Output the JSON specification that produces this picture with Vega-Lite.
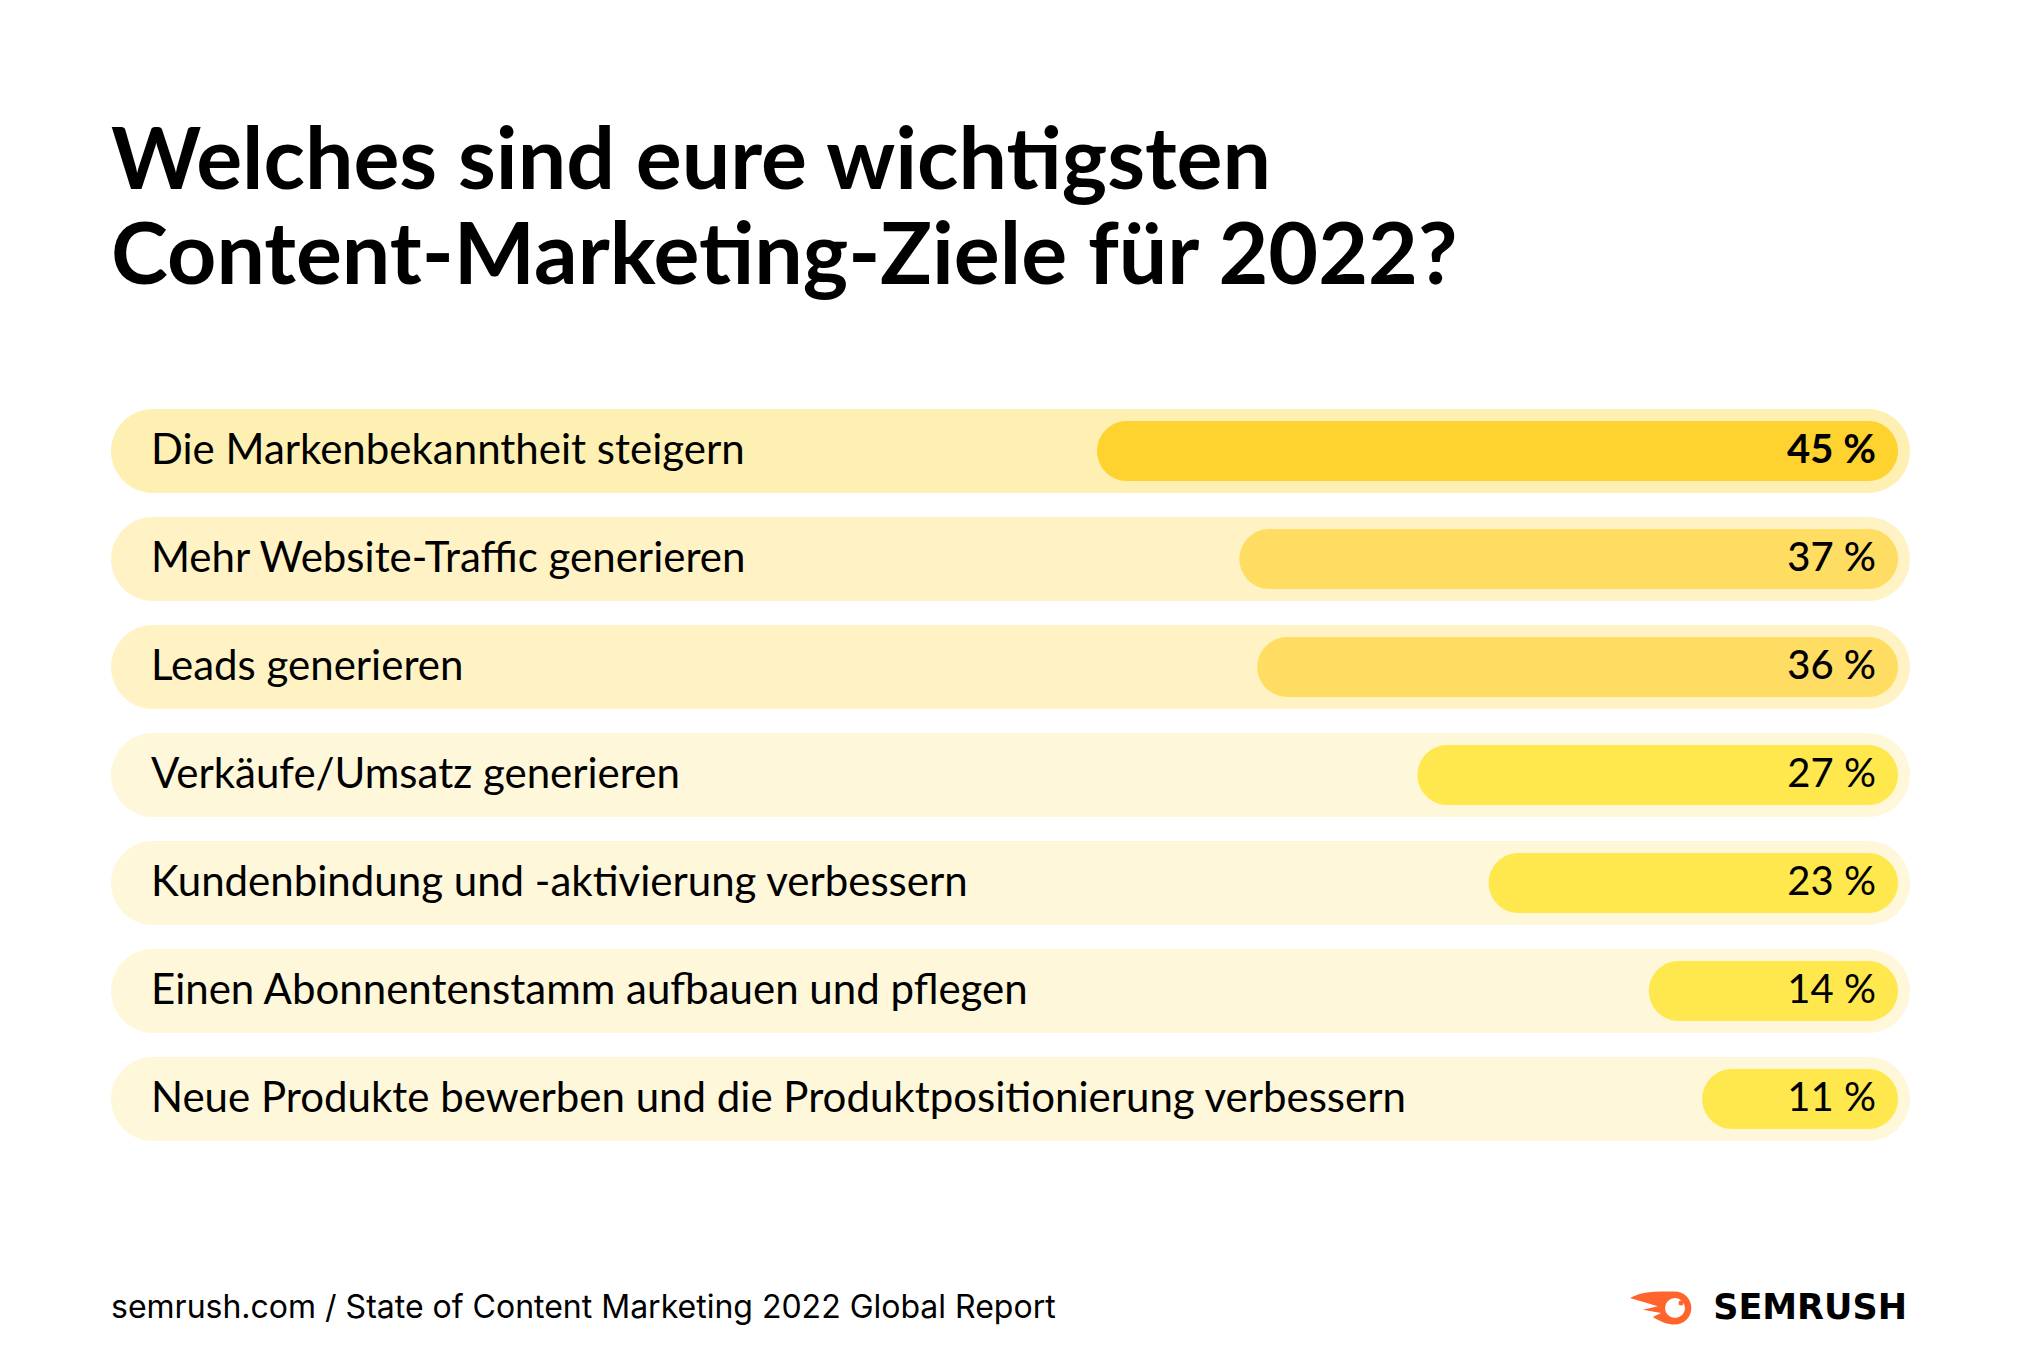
{
  "$schema": "https://vega.github.io/schema/vega-lite/v6.json",
  "background": "white",
  "padding": {"left": 111, "top": 120, "right": 110, "bottom": 30},
  "title": {
    "text": ["Welches sind eure wichtigsten", "Content-Marketing-Ziele für 2022?"],
    "anchor": "start",
    "frame": "group",
    "font": "Lato",
    "fontSize": 86,
    "fontWeight": 700,
    "lineHeight": 95,
    "color": "#000000",
    "offset": 95
  },
  "config": {"view": {"stroke": null}, "font": "Lato"},
  "spacing": 135,
  "vconcat": [
    {
      "width": 1799,
      "height": 756,
      "data": {
        "values": [
          {"goal": "Die Markenbekanntheit steigern", "share": 45},
          {"goal": "Mehr Website-Traffic generieren", "share": 37},
          {"goal": "Leads generieren", "share": 36},
          {"goal": "Verkäufe/Umsatz generieren", "share": 27},
          {"goal": "Kundenbindung und -aktivierung verbessern", "share": 23},
          {"goal": "Einen Abonnentenstamm aufbauen und pflegen", "share": 14},
          {"goal": "Neue Produkte bewerben und die Produktpositionierung verbessern", "share": 11}
        ]
      },
      "encoding": {
        "y": {
          "field": "goal",
          "type": "nominal",
          "sort": null,
          "axis": null,
          "scale": {"paddingInner": 0.2222, "paddingOuter": 0.1111}
        }
      },
      "layer": [
        {
          "mark": {"type": "bar", "cornerRadius": 42},
          "encoding": {
            "x": {"datum": 0, "type": "quantitative", "scale": {"domain": [0, 101.07], "reverse": true, "nice": false, "zero": true}, "axis": null},
            "x2": {"datum": 101.07},
            "color": {
              "field": "share",
              "type": "quantitative",
              "scale": {"type": "threshold", "domain": [30, 40], "range": ["#FFF7DA", "#FFF3C6", "#FEF0B3"]},
              "legend": null
            }
          }
        },
        {
          "mark": {"type": "bar", "cornerRadius": 30, "height": 60, "xOffset": -12, "x2Offset": -12},
          "encoding": {
            "x": {"field": "share", "type": "quantitative"},
            "x2": {"datum": 0},
            "fill": {
              "field": "share",
              "type": "quantitative",
              "scale": {"type": "threshold", "domain": [30, 40], "range": ["#FFE84D", "#FFDD62", "#FED22F"]},
              "legend": null
            }
          }
        },
        {
          "mark": {"type": "text", "align": "left", "baseline": "middle", "dx": 40, "font": "Lato", "fontSize": 42, "color": "#000000"},
          "encoding": {
            "x": {"datum": 101.07},
            "text": {"field": "goal"}
          }
        },
        {
          "transform": [{"filter": "datum.share >= 40"}],
          "mark": {"type": "text", "align": "right", "baseline": "middle", "dx": -34, "font": "Lato", "fontSize": 40, "fontWeight": 700, "color": "#000000", "text": {"expr": "datum.share + ' %'"}},
          "encoding": {"x": {"datum": 0}}
        },
        {
          "transform": [{"filter": "datum.share >= 30 && datum.share < 40"}],
          "mark": {"type": "text", "align": "right", "baseline": "middle", "dx": -34, "font": "Lato", "fontSize": 40, "fontWeight": 500, "color": "#000000", "text": {"expr": "datum.share + ' %'"}},
          "encoding": {"x": {"datum": 0}}
        },
        {
          "transform": [{"filter": "datum.share < 30"}],
          "mark": {"type": "text", "align": "right", "baseline": "middle", "dx": -34, "font": "Lato", "fontSize": 40, "fontWeight": 400, "color": "#000000", "text": {"expr": "datum.share + ' %'"}},
          "encoding": {"x": {"datum": 0}}
        }
      ],
      "resolve": {"scale": {"color": "independent", "fill": "independent"}}
    },
    {
      "width": 1799,
      "height": 40,
      "data": {"values": [{"source": "semrush.com / State of Content Marketing 2022 Global Report", "brand": "SEMRUSH"}]},
      "layer": [
        {
          "mark": {"type": "text", "align": "left", "baseline": "middle", "font": "Inter", "fontSize": 32, "color": "#000000"},
          "encoding": {
            "x": {"datum": 0, "type": "quantitative", "scale": {"domain": [0, 1], "nice": false}, "axis": null},
            "y": {"datum": 0.5, "type": "quantitative", "scale": {"domain": [0, 1], "nice": false}, "axis": null},
            "text": {"field": "source"}
          }
        },
        {
          "mark": {"type": "text", "align": "right", "baseline": "middle", "dx": -3, "font": "DejaVu Sans", "fontWeight": 700, "fontSize": 35, "color": "#000000"},
          "encoding": {
            "x": {"datum": 1},
            "y": {"datum": 0.5},
            "text": {"field": "brand"}
          }
        },
        {
          "mark": {"type": "point", "filled": true, "opacity": 1, "color": "#FF642D", "strokeWidth": 0, "size": 4356, "xOffset": -249,
            "shape": "M 0.42 -0.5 A 0.5 0.5 0 1 1 0.42 0.5 C 0.2 0.5 0.0 0.42 -0.25 0.27 L 0.0 0.15 L -0.55 0.05 L -0.1 -0.05 L -0.94 -0.3 C -0.6 -0.5 -0.2 -0.5 0.42 -0.5 Z"},
          "encoding": {"x": {"datum": 1}, "y": {"datum": 0.5}}
        },
        {
          "mark": {"type": "point", "shape": "circle", "filled": true, "opacity": 1, "color": "#FFFFFF", "strokeWidth": 0, "size": 400, "xOffset": -235},
          "encoding": {"x": {"datum": 1}, "y": {"datum": 0.5}}
        },
        {
          "mark": {"type": "point", "shape": "circle", "filled": true, "opacity": 1, "color": "#FF642D", "strokeWidth": 0, "size": 25, "xOffset": -229, "yOffset": -5},
          "encoding": {"x": {"datum": 1}, "y": {"datum": 0.5}}
        }
      ]
    }
  ]
}
